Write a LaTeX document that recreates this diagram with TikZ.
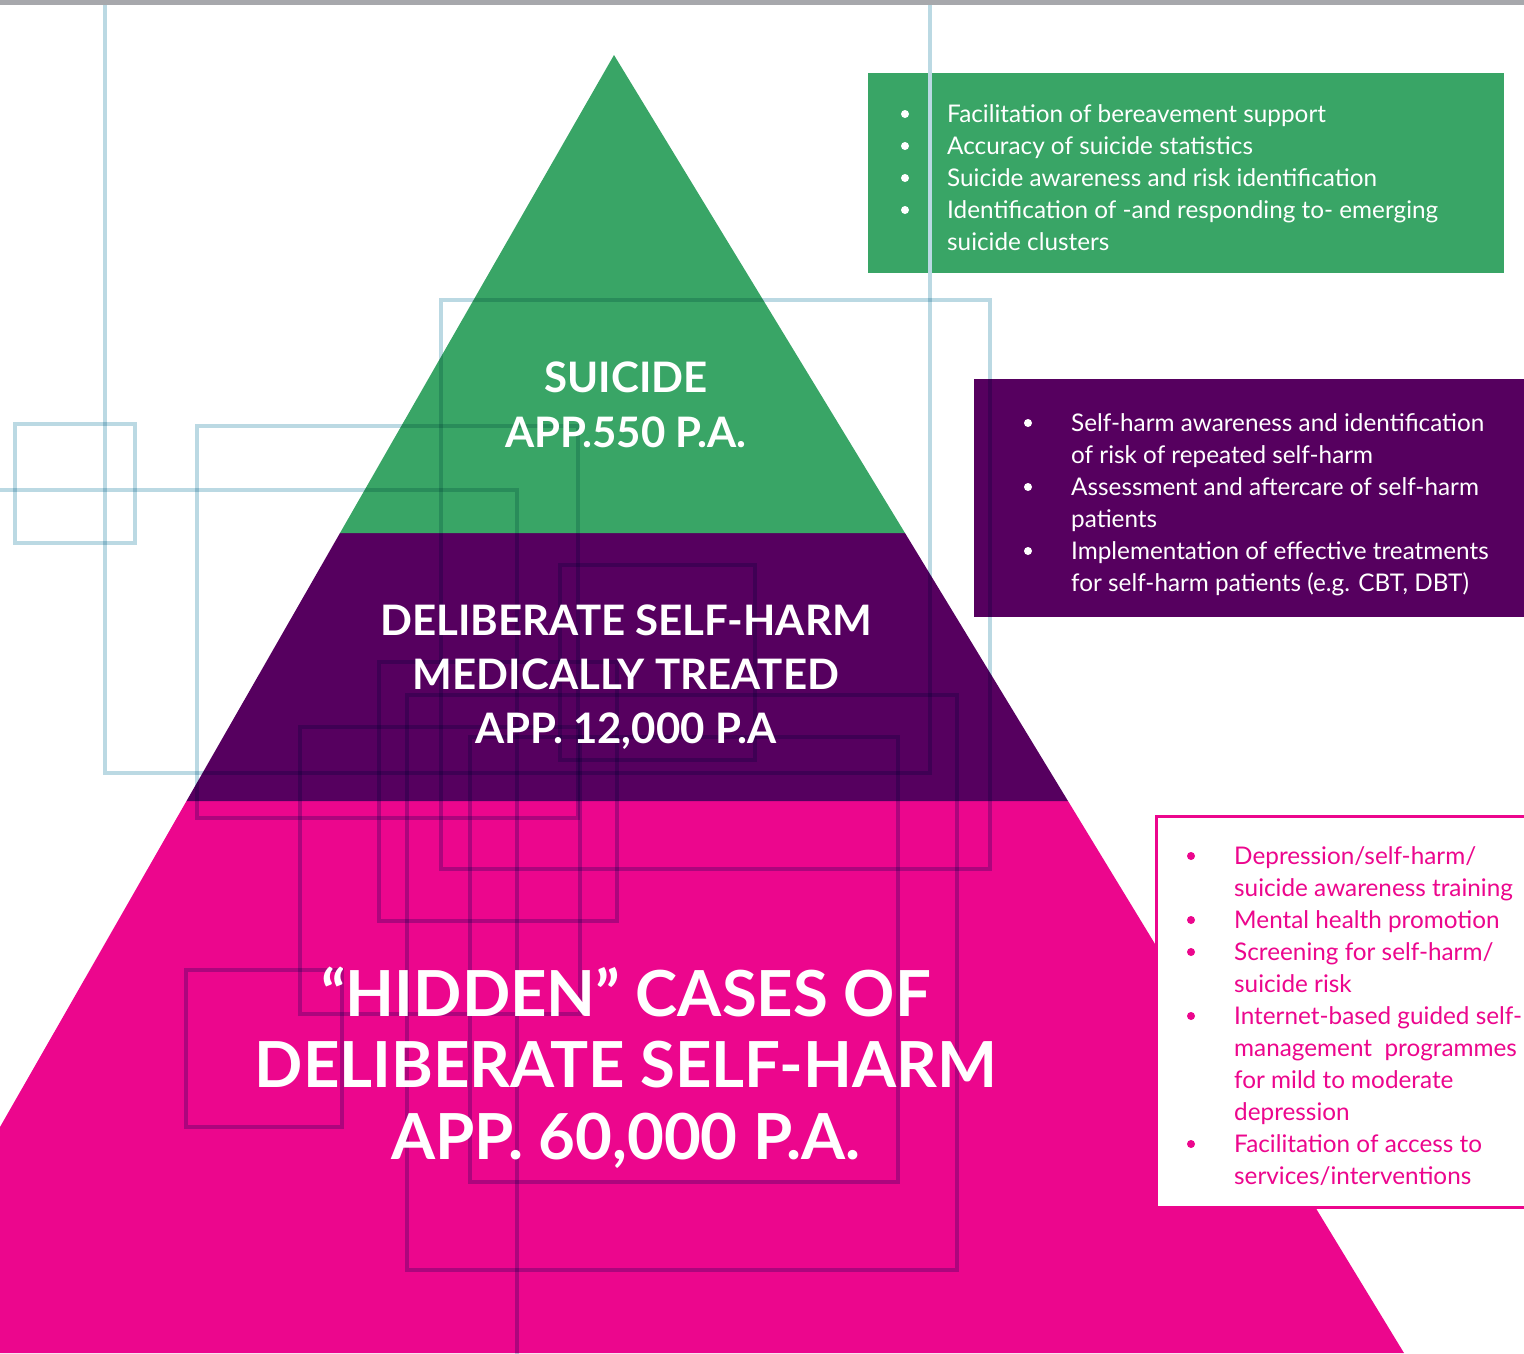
\documentclass[tikz,border=0pt]{standalone}
\usepackage{fontspec}
\setmainfont{Lato}
\definecolor{pgreen}{HTML}{39A566}
\definecolor{ppurple}{HTML}{56005F}
\definecolor{pmag}{HTML}{EC068D}
\definecolor{lblue}{HTML}{BBD9E3}
\definecolor{topgray}{HTML}{A7A8AC}
\begin{document}
\begin{tikzpicture}[x=1pt,y=-1pt,
  gridline/.style={draw=lblue,line width=4pt},
  lblS/.style={text=white,anchor=base,inner sep=0pt,font=\fontsize{42}{42}\selectfont\bfseries},
  lblM/.style={text=white,anchor=base,inner sep=0pt,font=\fontsize{42}{42}\selectfont\bfseries},
  lblL/.style={text=white,anchor=base,inner sep=0pt,font=\fontsize{63.5}{63.5}\selectfont\bfseries},
  itemtxt/.style={anchor=base west,inner sep=0pt,font=\fontsize{24.3}{24.3}\selectfont},
  bul/.style={circle,inner sep=0pt,minimum size=8pt},
]
\useasboundingbox (0,0) rectangle (1524,1353);
\clip (0,0) rectangle (1524,1353);

% pyramid bands
\fill[pmag] (186.5,801) -- (1068,801) -- (1404,1353) -- (0,1353) -- (0,1127) -- cycle;
\fill[ppurple] (340,533) -- (905,533) -- (1068,801) -- (186.5,801) -- cycle;
\fill[pgreen] (614,55) -- (905,533) -- (340,533) -- cycle;

% side boxes
\fill[pgreen] (868,73) rectangle (1504,273);
\fill[ppurple] (974,379) rectangle (1530,617);

% light blue frames
\begin{scope}[blend mode=multiply]
\draw[gridline] (105,-10) rectangle (930,773);
\draw[gridline] (15,424) rectangle (135,543);
\draw[gridline] (-10,490) rectangle (517,1370);
\draw[gridline] (197,426) rectangle (578,818);
\draw[gridline] (441,300) rectangle (990,869);
\draw[gridline] (560,565) rectangle (755,760);
\draw[gridline] (379,662) rectangle (617,921);
\draw[gridline] (300,727) rectangle (580,1014);
\draw[gridline] (407,695) rectangle (957,1270);
\draw[gridline] (470,737) rectangle (898,1182);
\draw[gridline] (186,970) rectangle (342,1127);
\end{scope}
\draw[gridline] (930,73) -- (930,273);

% top bar
\fill[topgray] (0,0) rectangle (1524,5);

% pink box
\draw[pmag,line width=3pt,fill=white] (1156,816) rectangle (1545,1207);

% pyramid labels
\node[lblS] (s1) at (626,392) {SUICIDE};
\node[lblS] (s2) at (626,447) {APP.550 P.A.};
\node[lblM] (m1) at (626,635) {DELIBERATE SELF-HARM};
\node[lblM] (m2) at (626,689) {MEDICALLY TREATED};
\node[lblM] (m3) at (626,743) {APP. 12,000 P.A};
\node[lblL] (h1) at (626,1016) {“HIDDEN” CASES OF};
\node[lblL] (h2) at (626,1087) {DELIBERATE SELF-HARM};
\node[lblL] (h3) at (626,1159) {APP. 60,000 P.A.};

% green box items
\foreach \t [count=\i] in {Facilitation of bereavement support, Accuracy of suicide statistics, Suicide awareness and risk identification, Identification of -and responding to- emerging, suicide clusters}
  \node[itemtxt,text=white] (g\i) at (947,{122+32*(\i-1)}) {\t};
\foreach \yy [count=\i] in {114,146,178,210}
  \node[bul,fill=white] (gb\i) at (905,\yy) {};

% purple box items
\foreach \t [count=\i] in {Self-harm awareness and identification, of risk of repeated self-harm, Assessment and aftercare of self-harm, patients, Implementation of effective treatments, {for self-harm patients (e.g. CBT, DBT)}}
  \node[itemtxt,text=white] (p\i) at (1071,{431+32*(\i-1)}) {\t};
\foreach \yy [count=\i] in {423,487,551}
  \node[bul,fill=white] (pb\i) at (1028,\yy) {};

% pink box items
\foreach \t [count=\i] in {Depression/self-harm/, suicide awareness training, Mental health promotion, Screening for self-harm/, suicide risk, Internet-based guided self-, management\ \ programmes, for mild to moderate, depression, Facilitation of access to, services/interventions}
  \node[itemtxt,text=pmag] (k\i) at (1234,{864+32*(\i-1)}) {\t};
\foreach \yy [count=\i] in {856,920,952,1016,1144}
  \node[bul,fill=pmag] (kb\i) at (1191,\yy) {};
\end{tikzpicture}
\end{document}
